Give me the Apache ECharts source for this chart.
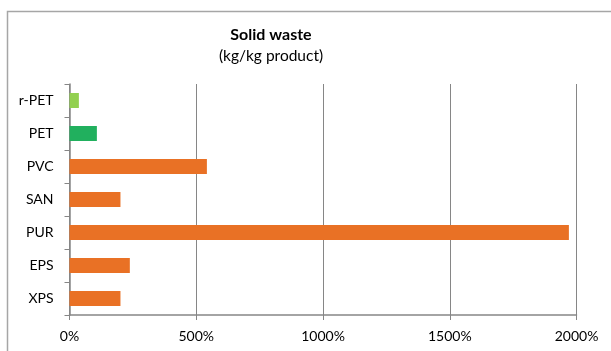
<!DOCTYPE html>
<html><head><meta charset="utf-8">
<script src="https://cdn.jsdelivr.net/npm/echarts@6/dist/echarts.min.js"></script>
<style>html,body{margin:0;padding:0;background:#fff}#c{width:611px;height:351px}</style>
</head><body><div id="c"></div>
<script>
const categories = ['r-PET','PET','PVC','SAN','PUR','EPS','XPS'];
const values = [37, 108, 542, 201, 1970, 238, 201];
const barColors = ['#92D050','#21B05E','#E97125','#E97125','#E97125','#E97125','#E97125'];
const xTicks = [0, 500, 1000, 1500, 2000];

const chart = echarts.init(document.getElementById('c'), null, {renderer:'canvas'});
const font = 'Lato, "Open Sans", sans-serif';
chart.setOption({
  animation:false,
  backgroundColor:'#fff',
  graphic:[{type:'rect', left:5, top:9, shape:{width:620, height:360}, style:{fill:'none', stroke:'#a6a6a6', lineWidth:1.5}, silent:true}],
  title:{
    text:'Solid waste', subtext:'(kg/kg product)', left:266, top:22, textAlign:'center', itemGap:5,
    textStyle:{fontFamily:font, fontWeight:'bold', fontSize:16, color:'#000'},
    subtextStyle:{fontFamily:font, fontSize:15.5, color:'#000'}
  },
  grid:{left:69.5, right:34.5, top:84, bottom:36, containLabel:false},
  xAxis:{
    type:'value', min:xTicks[0], max:xTicks[xTicks.length-1], interval:500,
    axisLine:{show:true, lineStyle:{color:'#868686', width:1.5}},
    axisTick:{show:true, length:5, lineStyle:{color:'#868686'}},
    splitLine:{show:true, lineStyle:{color:'#868686', width:1}},
    axisLabel:{formatter:v=>v+'%', color:'#000', fontFamily:font, fontSize:14, margin:14}
  },
  yAxis:{
    type:'category', data:categories, inverse:true,
    axisLine:{show:true, lineStyle:{color:'#868686', width:1.5}},
    axisTick:{show:true, length:5, lineStyle:{color:'#868686'}},
    axisLabel:{color:'#000', fontFamily:font, fontSize:14, margin:16}
  },
  series:[{
    type:'bar', barWidth:15,
    data: values.map((v,i)=>({value:v, itemStyle:{color:barColors[i]}}))
  }]
});
</script></body></html>
